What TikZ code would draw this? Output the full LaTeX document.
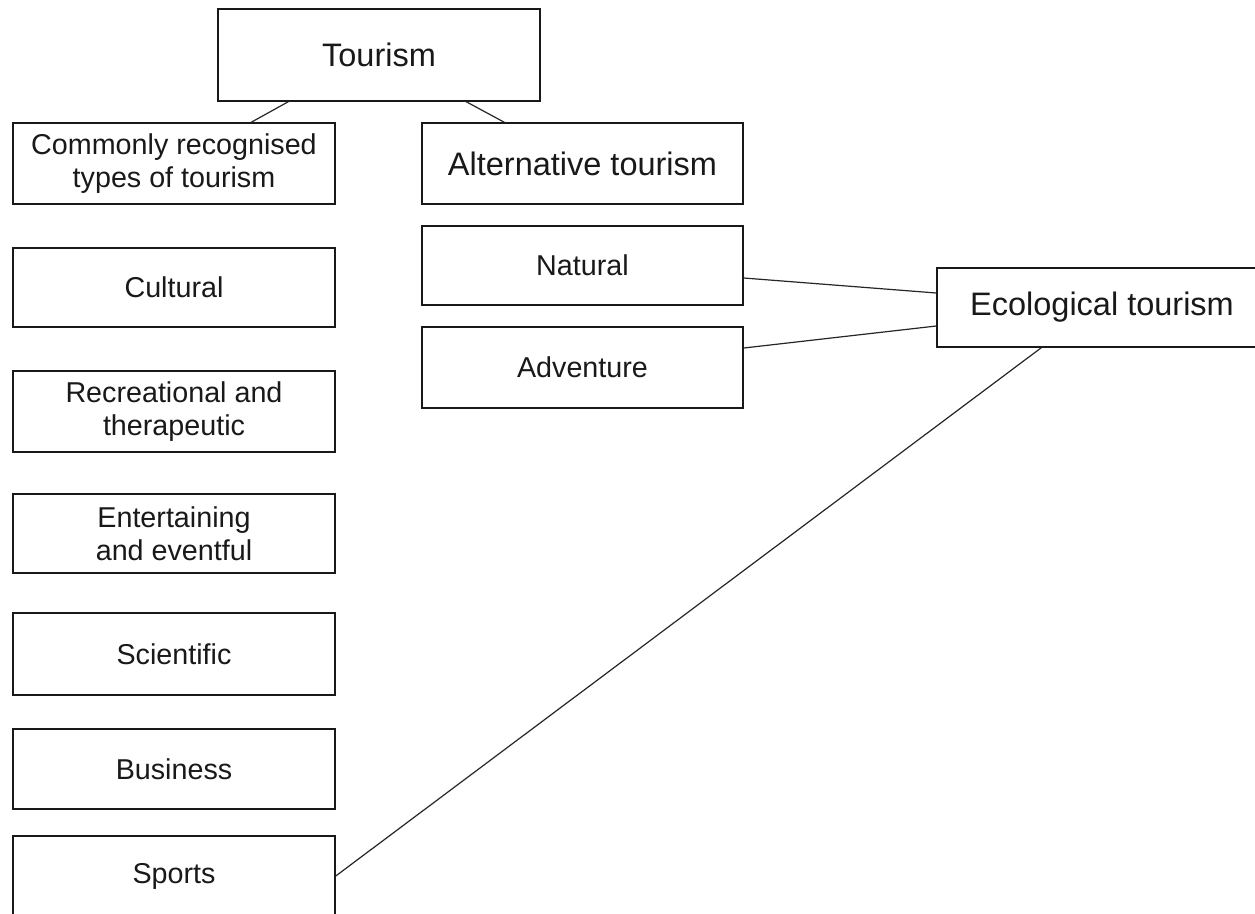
\documentclass[tikz,border=0pt]{standalone}
\usepackage{fontspec}
\setmainfont{Liberation Sans}
\begin{document}
\begin{tikzpicture}[x=1pt,y=-1pt,
  box/.style={draw=black!90, line width=1.5pt, rectangle, inner sep=0pt, align=center, text=black!90},
  small/.style={font=\fontsize{28.7}{33}\selectfont},
  big/.style={font=\fontsize{32.5}{36}\selectfont},
  link/.style={draw=black!85, line width=1.2pt}]
\useasboundingbox (0,0) rectangle (1255,913);
\clip (0,0) rectangle (1255,913);
\fill[white] (0,0) rectangle (1255,913);
% top
\node[box,big,minimum width=322pt,minimum height=92pt] (tour) at (379,55) {Tourism};
% left column
\node[box,small,minimum width=322pt,minimum height=81pt] (common) at (174,163.5) {Commonly recognised\\types of tourism};
\node[box,small,minimum width=322pt,minimum height=79pt] (cult) at (174,287.5) {Cultural};
\node[box,small,minimum width=322pt,minimum height=81pt] (recr) at (174,411.5) {Recreational and\\therapeutic};
\node[box,small,minimum width=322pt,minimum height=79pt] (ent) at (174,533.5) {Entertaining\\and eventful};
\node[box,small,minimum width=322pt,minimum height=82pt] (sci) at (174,654) {Scientific};
\node[box,small,minimum width=322pt,minimum height=80pt] (bus) at (174,769) {Business};
\node[box,small,minimum width=322pt,minimum height=80pt] (sport) at (174,876) {Sports};
% middle column
\node[box,big,minimum width=321pt,minimum height=81pt] (alt) at (582.5,163.5) {Alternative tourism};
\node[box,small,minimum width=321pt,minimum height=79pt] (nat) at (582.5,265.5) {Natural};
\node[box,small,minimum width=321pt,minimum height=81pt] (adv) at (582.5,367.5) {Adventure};
% right
\node[box,big,minimum width=330pt,minimum height=79pt] (eco) at (1102,307.5) {Ecological tourism};
% connectors
\draw[link] ([xshift=71pt]tour.south west) -- ([xshift=239pt]common.north west);
\draw[link] ([xshift=249pt]tour.south west) -- ([xshift=83pt]alt.north west);
\draw[link] ([yshift=-12.5pt]nat.east) -- ([yshift=14.5pt]eco.west);
\draw[link] ([yshift=19.5pt]adv.east) -- ([yshift=-18.5pt]eco.west);
\draw[link] (sport.east) -- ([xshift=105pt]eco.south west);
\end{tikzpicture}
\end{document}
